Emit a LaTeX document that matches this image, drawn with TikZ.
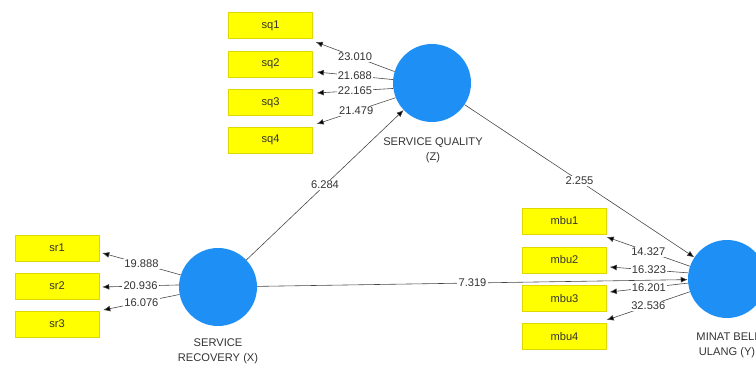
\documentclass[tikz,border=0pt]{standalone}
\usepackage{fontspec}
\setmainfont{Liberation Sans}
\usetikzlibrary{arrows.meta}
\definecolor{lvblue}{RGB}{30,144,245}
\definecolor{mvyellow}{RGB}{255,255,0}
\definecolor{mvedge}{RGB}{225,215,0}
\definecolor{linkgray}{RGB}{70,70,70}

\begin{document}
\begin{tikzpicture}[x=0.03cm,y=-0.03cm]
            \tikzstyle{every node}+=[font=\fontsize{9.5}{12.5}\selectfont, text=black!80]
            \tikzstyle{indicator}=[draw=mvedge, fill=mvyellow, minimum width=2.52cm, minimum height=0.78cm, inner sep=0pt]
            \tikzstyle{construct}=[circle, fill=lvblue, minimum size=2.34cm, inner sep=0pt]
            \tikzstyle{caption}=[align=center, inner sep=0pt]
            \tikzstyle{weight}=[fill=white, inner sep=1pt]
            \tikzstyle{link}=[draw=linkgray, line width=0.5pt, -{Latex[length=6pt,width=5pt,fill=black]}]
            \useasboundingbox (0,0) rectangle (756,370);
            \clip (0,0) rectangle (756,370);
            % latent variables
            \node [construct] (SQ) at (432,83) {};
            \node [construct] (SR) at (218,287) {};
            \node [construct] (MBU) at (727,279) {};
            \node [caption] (SQlbl) at (433,150) {SERVICE QUALITY\\(Z)};
            \node [caption] (SRlbl) at (218,351) {SERVICE\\RECOVERY (X)};
            \node [caption] (MBUlbl) at (727,345) {MINAT BELI\\ULANG (Y)};
            % indicators
            \node [indicator] (sq1) at (270.5,25.5) {sq1};
            \node [indicator] (sq2) at (270.5,64) {sq2};
            \node [indicator] (sq3) at (270.5,102.5) {sq3};
            \node [indicator] (sq4) at (270.5,140) {sq4};
            \node [indicator] (sr1) at (57,248) {sr1};
            \node [indicator] (sr2) at (57,286) {sr2};
            \node [indicator] (sr3) at (57,324) {sr3};
            \node [indicator] (mbu1) at (564.5,221) {mbu1};
            \node [indicator] (mbu2) at (564.5,260) {mbu2};
            \node [indicator] (mbu3) at (564.5,298.5) {mbu3};
            \node [indicator] (mbu4) at (564.5,336.5) {mbu4};
            % inner model
            \draw [link] (SR) -- node [weight] {6.284} (SQ);
            \draw [link] (SQ) -- node [weight] {2.255} (MBU);
            \draw [link] (SR) -- node [weight] {7.319} (MBU);
            % outer loadings
            \draw [link] (SQ.163) -- node [weight] {23.010} ([shift={(3,16.5)}]sq1.east);
            \draw [link] (SQ.175) -- node [weight] {21.688} ([shift={(4,8)}]sq2.east);
            \draw [link] (SQ.188) -- node [weight] {22.165} ([shift={(4,-9.5)}]sq3.east);
            \draw [link] (SQ.202) -- node [weight] {21.479} ([shift={(4,-16)}]sq4.east);
            \draw [link] (SR.162) -- node [weight] {19.888} ([shift={(3,5)}]sr1.east);
            \draw [link] (SR.177) -- node [weight] {20.936} ([shift={(3,1)}]sr2.east);
            \draw [link] (SR.191) -- node [weight] {16.076} ([shift={(4,-14)}]sr3.east);
            \draw [link] (MBU.161) -- node [weight] {14.327} ([shift={(0,16)}]mbu1.east);
            \draw [link] (MBU.171) -- node [weight] {16.323} ([shift={(3,7)}]mbu2.east);
            \draw [link] (MBU.186) -- node [weight] {16.201} ([shift={(3,-6.5)}]mbu3.east);
            \draw [link] (MBU.199) -- node [weight] {32.536} ([shift={(0,-16.5)}]mbu4.east);
        \end{tikzpicture}
\end{document}
